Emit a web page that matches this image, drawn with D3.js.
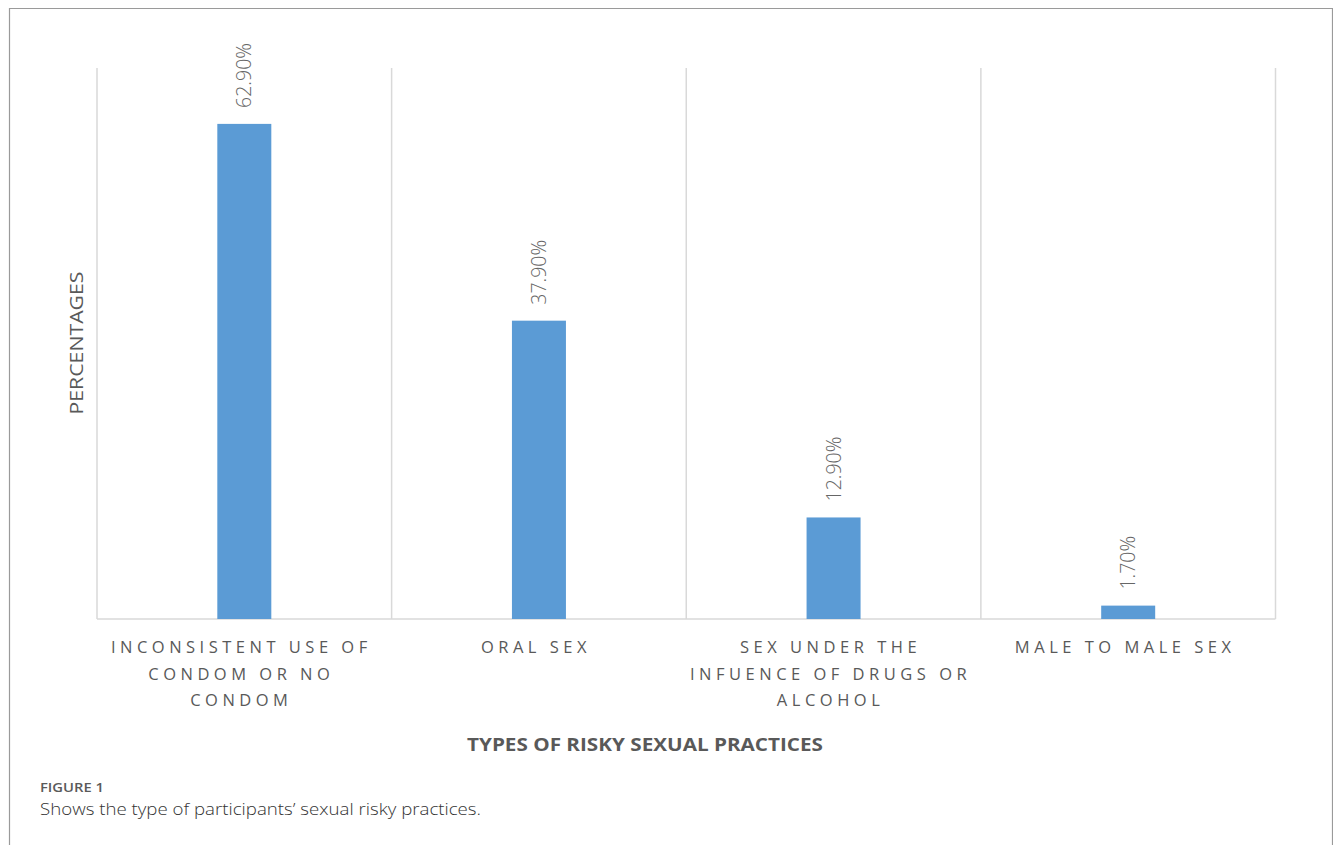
<!DOCTYPE html>
<html><head><meta charset="utf-8">
<script src="https://cdn.jsdelivr.net/npm/d3@7"></script>
<style>body{margin:0;background:#fff;}svg{display:block;}</style>
</head><body>
<script>
const categories = [
  ["INCONSISTENT USE OF","CONDOM OR NO","CONDOM"],
  ["ORAL SEX"],
  ["SEX UNDER THE","INFUENCE OF DRUGS OR","ALCOHOL"],
  ["MALE TO MALE SEX"]
];
const values = [62.9, 37.9, 12.9, 1.7];
const valueLabels = ["62.90%","37.90%","12.90%","1.70%"];
const yDomain = [0, 70];
const xTitle = "TYPES OF RISKY SEXUAL PRACTICES";
const yTitle = "PERCENTAGES";
const figLabel = "FIGURE 1";
const caption = "Shows the type of participants\u2019 sexual risky practices.";

(function(){
const W = 1333, H = 845;
const svg = d3.select("body").append("svg").attr("width", W).attr("height", H);

// outer frame
svg.append("path").attr("d", `M9.5,${H+2} V8.5 H1332.5 V${H+2}`)
  .attr("fill","none").attr("stroke","#9a9a9a").attr("stroke-width",1.2);

const pL = 97, pR = 1275.5, pT = 68, pB = 619;
const idx = categories.map((d,i)=>i);
const x = d3.scaleBand().domain(idx).range([pL, pR]).paddingInner(0).paddingOuter(0);
const y = d3.scaleLinear().domain(yDomain).range([pB, pT]);

// vertical category separators
const seps = idx.map(i => x(i)).concat([pR]);
svg.append("g").selectAll("line").data(seps).join("line")
  .attr("x1", d=>d).attr("x2", d=>d).attr("y1", pT).attr("y2", pB)
  .attr("stroke","#d9d9d9").attr("stroke-width",1.5);
svg.append("line").attr("x1",pL).attr("x2",pR).attr("y1",pB).attr("y2",pB)
  .attr("stroke","#d9d9d9").attr("stroke-width",1.5);

const bw = 54;
svg.append("g").selectAll("rect").data(values).join("rect")
  .attr("x",(d,i)=>x(i)+x.bandwidth()/2-bw/2)
  .attr("width",bw)
  .attr("y",d=>y(d))
  .attr("height",d=>pB-y(d))
  .attr("fill","#5b9bd5");

// value labels (rotated)
svg.append("g").selectAll("text").data(values).join("text")
  .attr("transform",(d,i)=>`translate(${x(i)+x.bandwidth()/2+7},${y(d)-16}) rotate(-90)`)
  .attr("text-anchor","start")
  .attr("font-family","'Open Sans', sans-serif")
  .attr("font-size",19.5)
  .attr("font-weight",300)
  .attr("fill","#666")
  .text((d,i)=>valueLabels[i]);

// category labels
const cg = svg.append("g");
categories.forEach((lines,i)=>{
  lines.forEach((ln,j)=>{
    cg.append("text")
      .attr("x", x(i)+x.bandwidth()/2 - 3)
      .attr("y", 653 + j*26.5)
      .attr("text-anchor","middle")
      .attr("font-family","'Open Sans', sans-serif")
      .attr("font-size",16.5)
      .attr("letter-spacing","4.5px")
      .attr("fill","#595959")
      .text(ln);
  });
});

// axis titles
svg.append("text").attr("x",645).attr("y",751).attr("text-anchor","middle")
  .attr("font-family","'Open Sans', sans-serif").attr("font-weight","bold")
  .attr("font-size",17.5).attr("fill","#595959")
  .attr("textLength",356).attr("lengthAdjust","spacingAndGlyphs")
  .text(xTitle);
svg.append("text").attr("transform","translate(83,343) rotate(-90)").attr("text-anchor","middle")
  .attr("font-family","'Open Sans', sans-serif")
  .attr("font-size",18).attr("fill","#595959")
  .attr("textLength",143).attr("lengthAdjust","spacingAndGlyphs")
  .text(yTitle);

// caption
svg.append("text").attr("x",40).attr("y",792)
  .attr("font-family","'Open Sans', sans-serif").attr("font-weight","600")
  .attr("font-size",13).attr("fill","#5a5a5a")
  .attr("textLength",64).attr("lengthAdjust","spacingAndGlyphs")
  .text(figLabel);
svg.append("text").attr("x",40).attr("y",815)
  .attr("font-family","'Open Sans', sans-serif").attr("font-weight",300)
  .attr("font-size",16.5).attr("fill","#333")
  .attr("textLength",441).attr("lengthAdjust","spacingAndGlyphs")
  .text(caption);
})();
</script>
</body></html>
